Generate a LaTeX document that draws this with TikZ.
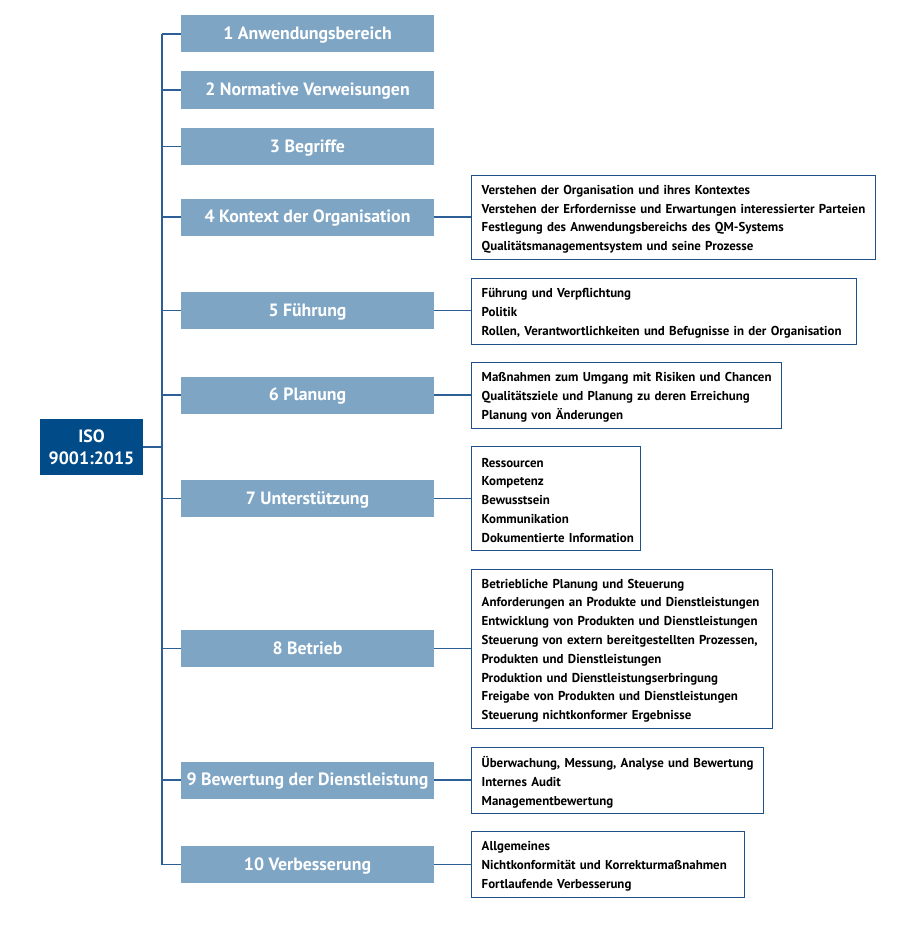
\documentclass[tikz,border=0pt]{standalone}
\usepackage{fontspec}
\setmainfont{PT Sans}
\definecolor{secfill}{HTML}{7FA5C5}
\definecolor{isofill}{HTML}{004B88}
\definecolor{linec}{HTML}{2B5F95}
\definecolor{boxline}{HTML}{1F5088}
\newcommand{\detfont}{\fontsize{12.9}{18.8}\selectfont\bfseries\hbadness=10000 \hfuzz=50pt\relax}
\tikzset{
  sec/.style={fill=secfill, minimum width=253pt, minimum height=37pt, inner sep=0pt,
    text height=15pt, text depth=4pt,
    font=\fontsize{17.8}{20}\selectfont\bfseries, text=white},
  isobox/.style={fill=isofill, minimum width=103pt, minimum height=56pt, inner sep=0pt,
    align=center, font=\fontsize{17.8}{22}\selectfont\bfseries, text=white},
  det/.style={draw=boxline, line width=1.4pt, anchor=north west, align=left,
    inner xsep=10pt, inner ysep=0pt, font=\detfont, text=black},
  conn/.style={draw=linec, line width=2pt},
}
\newcommand{\dlow}{\par\vspace{-3pt}}
\begin{document}
\begin{tikzpicture}[x=1pt,y=-1pt]
\useasboundingbox (0,0) rectangle (919,950);
% root
\node[isobox] (iso) at (91.5,447) {ISO\\9001:2015};
% sections
\node[sec] (s1) at (307.5,34) {1 Anwendungsbereich};
\node[sec] (s2) at (307.5,90) {2 Normative Verweisungen};
\node[sec] (s3) at (307.5,146.5) {3 Begriffe};
\node[sec] (s4) at (307.5,217) {4 Kontext der Organisation};
\node[sec] (s5) at (307.5,310.5) {5 Führung};
\node[sec] (s6) at (307.5,395) {6 Planung};
\node[sec] (s7) at (307.5,498.5) {7 Unterstützung};
\node[sec] (s8) at (307.5,648.5) {8 Betrieb};
\node[sec] (s9) at (307.5,780) {9 Bewertung der Dienstleistung};
\node[sec] (s10) at (307.5,864.5) {10 Verbesserung};
% trunk
\coordinate (ttop) at (162,34);
\coordinate (tbot) at (162,864.5);
\draw[conn] (ttop) -- (tbot);
\draw[conn] (iso.east) -- (iso.east -| ttop);
\foreach \i in {1,...,10}{
  \draw[conn, line width=1.8pt] (s\i.west) -- (s\i.west -| ttop);
}
% details
\node[det, text width=384pt, minimum height=84pt] (d4) at (471,175) {Verstehen der Organisation und ihres Kontextes\\Verstehen der Erfordernisse und Erwartungen interessierter Parteien\\Festlegung des Anwendungsbereichs des QM-Systems\\Qualitätsmanagementsystem und seine Prozesse\dlow};
\node[det, text width=365pt, minimum height=66pt] (d5) at (471,278) {Führung und Verpflichtung\\Politik\\Rollen, Verantwortlichkeiten und Befugnisse in der Organisation\dlow};
\node[det, text width=290pt, minimum height=66pt] (d6) at (471,362) {Maßnahmen zum Umgang mit Risiken und Chancen\\Qualitätsziele und Planung zu deren Erreichung\\Planung von Änderungen\dlow};
\node[det, text width=149pt, minimum height=104pt] (d7) at (471,446) {Ressourcen\\Kompetenz\\Bewusstsein\\Kommunikation\\\mbox{Dokumentierte Information}\dlow};
\node[det, text width=281pt, minimum height=159pt] (d8) at (471,569) {Betriebliche Planung und Steuerung\\Anforderungen an Produkte und Dienstleistungen\\Entwicklung von Produkten und Dienstleistungen\\Steuerung von extern bereitgestellten Prozessen,\\Produkten und Dienstleistungen\\Produktion und Dienstleistungserbringung\\Freigabe von Produkten und Dienstleistungen\\Steuerung nichtkonformer Ergebnisse\dlow};
\node[det, text width=272pt, minimum height=66pt] (d9) at (471,747) {Überwachung, Messung, Analyse und Bewertung\\Internes Audit\\Managementbewertung\dlow};
\node[det, text width=253pt, minimum height=66pt] (d10) at (471,831) {Allgemeines\\Nichtkonformität und Korrekturmaßnahmen\\Fortlaufende Verbesserung\dlow};
\foreach \i in {4,...,10}{
  \draw[conn, line width=1.8pt] (s\i.east) -- (s\i.east -| d\i.west);
}
\end{tikzpicture}
\end{document}
